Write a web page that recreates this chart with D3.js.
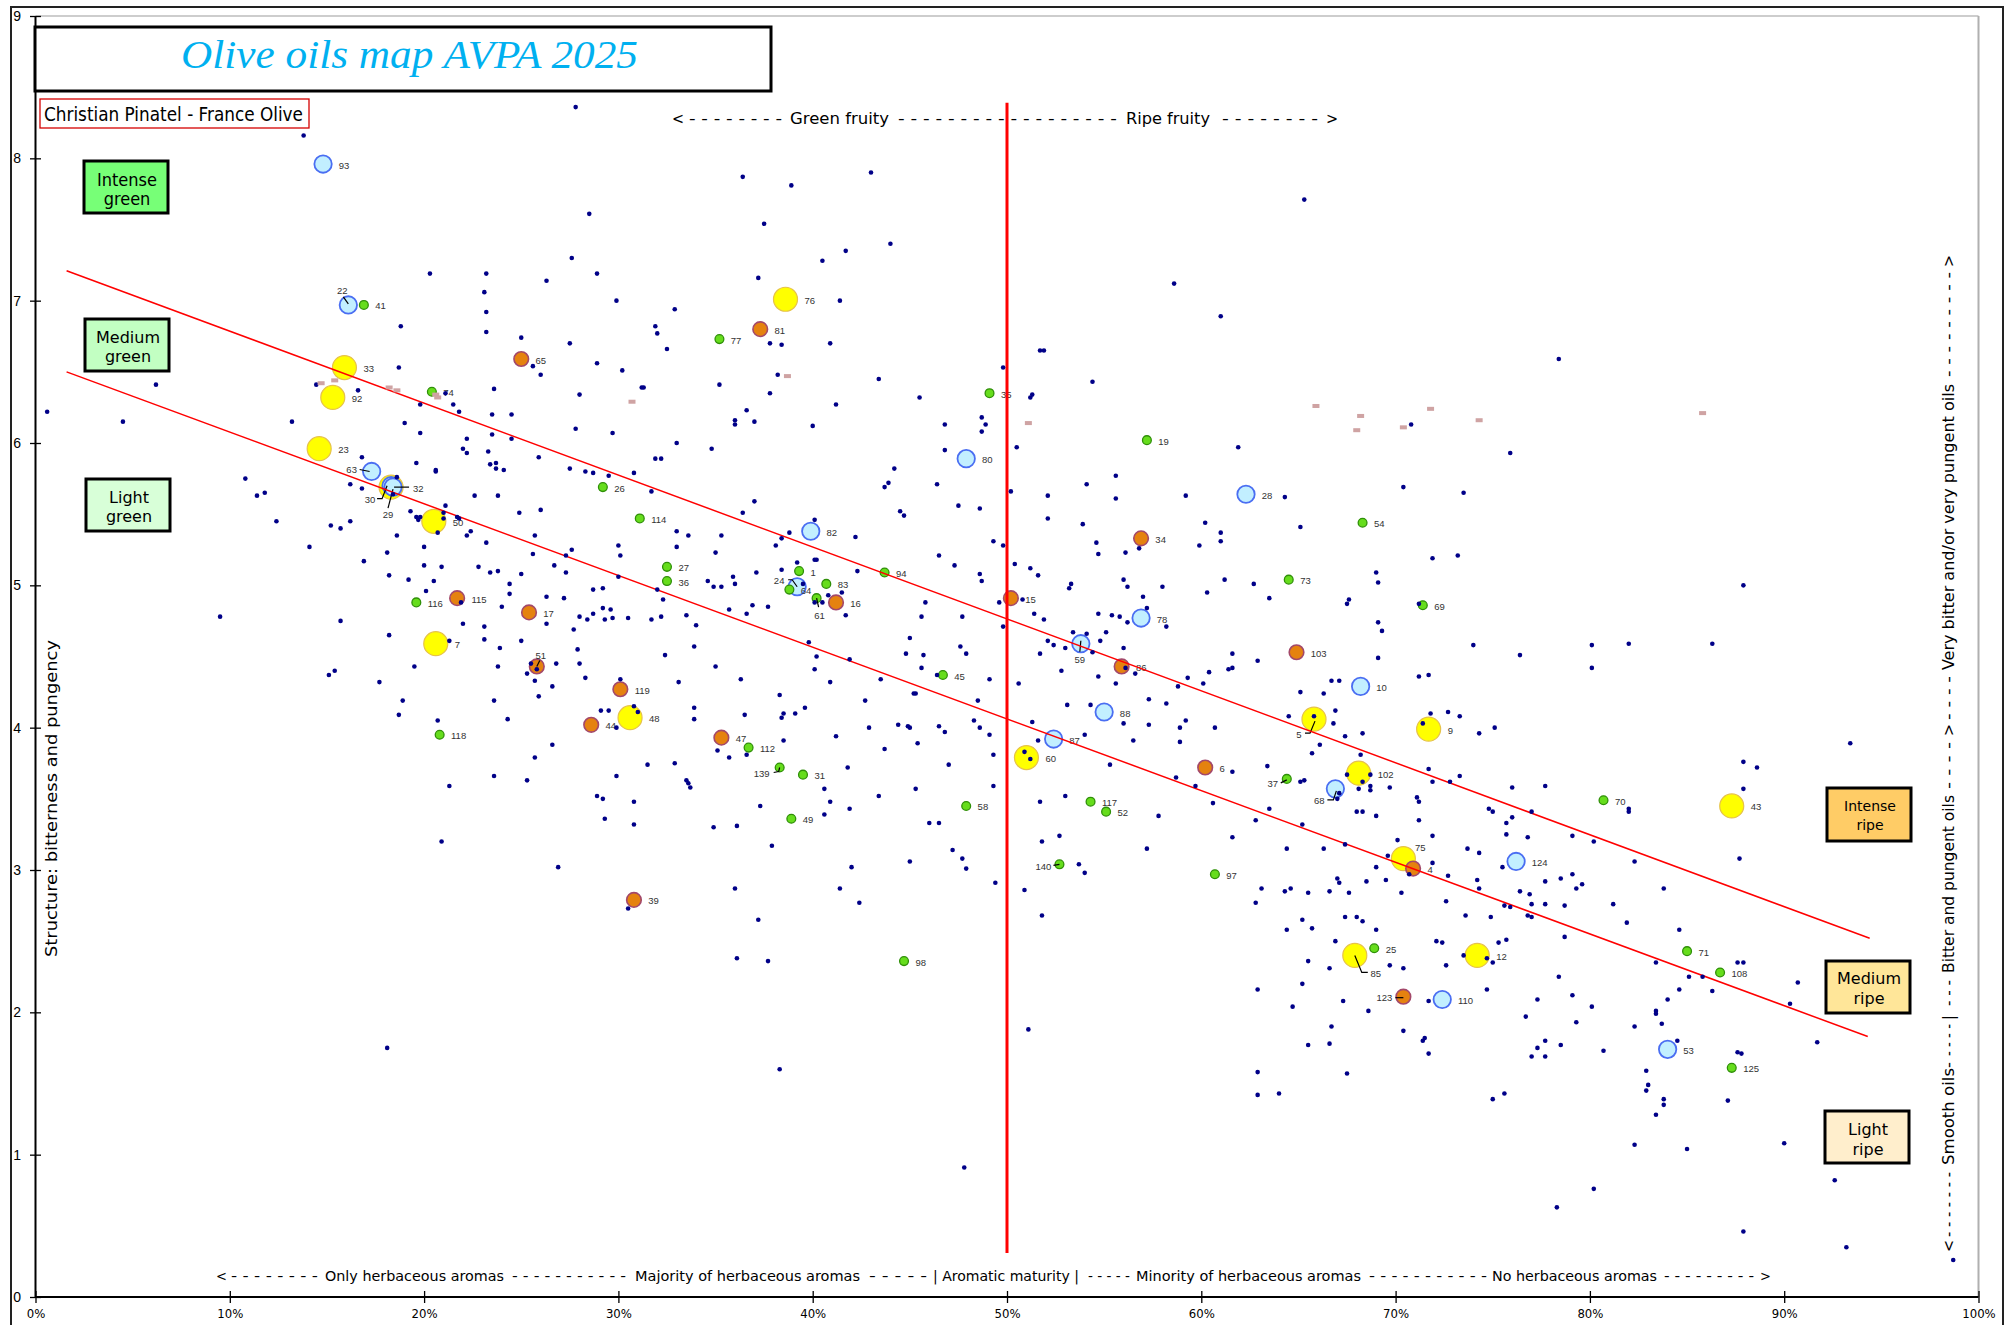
<!DOCTYPE html>
<html><head><meta charset="utf-8">
<script src="https://cdn.jsdelivr.net/npm/d3@7"></script>
<style>html,body{margin:0;padding:0;background:#fff;}svg{display:block;}</style>
</head><body>
<svg id="chart" width="2015" height="1325"></svg>
<script>
// ---------- DATA ----------
const xTicks = [0,10,20,30,40,50,60,70,80,90,100];
const yTicks = [0,1,2,3,4,5,6,7,8,9];
const trendUpper = [[1.6,7.21],[94.4,2.52]];
const trendLower = [[1.6,6.50],[94.3,1.83]];
const maturityLine = [[50,8.39],[50,0.31]];

// [id, aroma maturity %, structure]
const yellowOils = [[76,38.6,7.01],[33,15.9,6.53],[92,15.3,6.32],[23,14.6,5.96],[32,18.3,5.69],[50,20.5,5.45],[7,20.6,4.59],[48,30.6,4.07],[60,51.0,3.79],[5,65.8,4.06],[9,71.7,3.99],[102,68.1,3.68],[75,70.4,3.08],[85,67.9,2.40],[12,74.2,2.40],[43,87.3,3.45]];
const orangeOils = [[81,37.3,6.80],[65,25.0,6.59],[115,21.7,4.91],[17,25.4,4.81],[51,25.8,4.43],[119,30.1,4.27],[44,28.6,4.02],[47,35.3,3.93],[39,30.8,2.79],[16,41.2,4.88],[15,50.2,4.91],[34,56.9,5.33],[86,55.9,4.43],[103,64.9,4.53],[6,60.2,3.72],[4,70.9,3.01],[123,70.4,2.11]];
const blueOils = [[93,14.8,7.96],[22,16.1,6.97],[63,17.3,5.80],[30,18.3,5.70],[29,18.4,5.69],[82,39.9,5.38],[24,39.2,4.99],[80,47.9,5.89],[28,62.3,5.64],[78,56.9,4.77],[59,53.8,4.59],[88,55.0,4.11],[87,52.4,3.92],[10,68.2,4.29],[68,66.9,3.57],[124,76.2,3.06],[110,72.4,2.09],[53,84.0,1.74]];
const greenOils = [[41,16.9,6.97],[77,35.2,6.73],[74,20.4,6.36],[35,49.1,6.35],[19,57.2,6.02],[26,29.2,5.69],[114,31.1,5.47],[27,32.5,5.13],[36,32.5,5.03],[1,39.3,5.10],[83,40.7,5.01],[64,38.8,4.97],[61,40.2,4.91],[94,43.7,5.09],[116,19.6,4.88],[45,46.7,4.37],[118,20.8,3.95],[112,36.7,3.86],[139,38.3,3.72],[31,39.5,3.67],[49,38.9,3.36],[58,47.9,3.45],[117,54.3,3.48],[52,55.1,3.41],[140,52.7,3.04],[97,60.7,2.97],[98,44.7,2.36],[54,68.3,5.44],[73,64.5,5.04],[69,71.4,4.86],[37,64.4,3.64],[70,80.7,3.49],[25,68.9,2.45],[71,85.0,2.43],[108,86.7,2.28],[125,87.3,1.61]];

// other oils of the database [aroma maturity %, structure]
const otherOils = [
[20.3,7.19],[23.2,7.19],[26.3,7.14],[28.9,7.19],[23.1,7.06],[23.2,6.92],[29.9,7.00],[32.9,6.94],[18.8,6.82],[23.2,6.78],
[25.0,6.74],[27.5,6.70],[31.9,6.82],[32.0,6.77],[32.5,6.66],[18.7,6.53],[25.6,6.54],[26.0,6.48],[28.9,6.56],[30.2,6.51],
[14.45,6.41],[16.6,6.37],[21.1,6.35],[23.6,6.38],[28.0,6.34],[31.2,6.39],[31.3,6.39],[35.2,6.41],[19.8,6.27],[21.5,6.27],
[21.8,6.22],[23.5,6.20],[24.5,6.20],[19.0,6.14],[36.0,6.16],[36.0,6.13],[36.6,6.23],[27.8,6.10],[29.7,6.07],[19.8,6.07],
[22.2,6.03],[23.5,6.06],[24.5,6.03],[33.0,6.00],[34.8,5.96],[16.8,5.90],[19.6,5.86],[20.6,5.81],[20.6,5.80],[22.0,5.96],
[22.2,5.93],[23.3,5.94],[23.4,5.85],[23.7,5.86],[23.7,5.82],[24.1,5.81],[25.9,5.90],[27.5,5.82],[28.3,5.80],[28.7,5.79],
[29.5,5.77],[30.8,5.79],[31.9,5.89],[32.2,5.89],[31.7,5.66],[16.2,5.71],[16.8,5.68],[18.6,5.76],[18.4,5.64],[22.6,5.63],
[23.8,5.63],[21.1,5.56],[19.3,5.52],[19.6,5.48],[19.7,5.46],[19.8,5.48],[21.0,5.51],[21.0,5.47],[21.7,5.48],[21.8,5.47],
[24.9,5.51],[26.0,5.53],[15.2,5.42],[15.7,5.40],[16.2,5.45],[18.6,5.35],[20.7,5.37],[22.2,5.35],[22.4,5.38],[25.7,5.35],
[14.1,5.27],[20.0,5.27],[23.2,5.30],[25.6,5.22],[27.6,5.25],[27.3,5.21],[30.0,5.28],[30.1,5.21],[33.0,5.38],[33.6,5.35],
[33.0,5.27],[35.3,5.35],[35.0,5.23],[36.4,5.51],[18.1,5.23],[16.9,5.17],[20.0,5.14],[20.9,5.13],[22.8,5.13],[23.4,5.09],
[23.8,5.10],[25.0,5.08],[26.7,5.14],[27.3,5.09],[30.0,5.06],[18.2,5.07],[19.2,5.04],[20.5,5.03],[20.1,4.96],[24.4,5.01],
[24.4,4.94],[24.0,4.85],[21.9,4.88],[26.3,4.92],[27.2,4.91],[28.7,4.97],[29.2,4.98],[32.0,4.97],[32.3,4.90],[34.6,5.03],
[34.9,4.99],[35.3,4.99],[35.9,5.06],[36.0,5.01],[36.6,4.80],[35.7,4.83],[28.0,4.78],[28.4,4.76],[28.7,4.80],[29.2,4.84],
[29.6,4.83],[29.3,4.76],[29.7,4.77],[30.5,4.77],[31.7,4.76],[32.2,4.78],[33.5,4.79],[34.0,4.72],[26.3,4.73],[27.7,4.69],
[22.0,4.73],[23.1,4.71],[23.1,4.62],[25.0,4.61],[23.9,4.56],[21.3,4.61],[15.7,4.75],[18.2,4.65],[27.9,4.55],[32.4,4.51],
[33.9,4.57],[35.0,4.43],[36.3,4.34],[33.1,4.32],[15.1,4.37],[15.4,4.40],[17.7,4.32],[19.5,4.43],[23.8,4.43],[25.5,4.45],
[25.3,4.38],[25.7,4.33],[25.8,4.41],[26.8,4.45],[26.6,4.29],[25.9,4.22],[28.0,4.45],[28.3,4.35],[30.1,4.34],[23.6,4.19],
[18.9,4.19],[33.9,4.14],[30.8,4.15],
[37.0,5.59],[40.1,5.46],[38.8,5.37],[38.4,5.33],[38.1,5.28],[42.2,5.34],[44.5,5.52],[44.7,5.49],[47.5,5.56],[48.6,5.54],
[52.1,5.47],[53.9,5.43],[49.3,5.31],[49.8,5.28],[54.6,5.30],[54.7,5.22],[46.5,5.21],[47.3,5.14],[48.6,5.08],[48.7,5.03],
[50.4,5.15],[51.2,5.12],[51.6,5.07],[53.3,5.01],[53.2,4.98],[39.2,5.16],[38.4,5.11],[40.1,5.18],[40.2,5.18],[42.3,5.10],
[37.1,5.09],[39.5,5.01],[40.8,4.93],[41.5,4.95],[40.1,4.88],[40.5,4.88],[41.7,4.79],[37.7,4.85],[36.9,4.86],
[49.6,4.88],[47.7,4.78],[45.6,4.78],[45.8,4.88],[49.8,4.71],[51.4,4.80],[51.9,4.76],[53.4,4.67],[54.1,4.66],[52.1,4.61],
[52.4,4.58],[53.0,4.56],[51.7,4.52],[52.8,4.40],[54.4,4.53],[54.7,4.36],[45.0,4.63],[44.8,4.52],[45.7,4.51],[47.6,4.57],
[47.9,4.52],[45.6,4.42],[39.8,4.60],[40.2,4.50],[41.9,4.48],[40.1,4.41],[40.9,4.32],[43.5,4.34],[46.4,4.37],[49.1,4.34],
[50.6,4.31],[38.3,4.23],[39.6,4.14],[38.5,4.10],[39.1,4.10],[38.4,4.07],[42.7,4.19],[45.2,4.24],[45.3,4.24],[48.5,4.19],
[48.3,4.05],[48.6,4.00],[51.3,4.04],[53.1,4.16],[54.3,4.16],[51.6,3.91],[54.0,3.95],[44.4,4.02],[44.9,4.01],[45.0,4.00],
[46.5,4.01],[46.8,3.97],[42.9,4.00],[41.2,3.94],[43.7,3.85],[45.4,3.89],[49.1,3.95],[49.3,3.81],[47.0,3.74],[49.3,3.59],
[53.0,3.52],[51.7,3.48],[43.4,3.52],[45.3,3.57],[41.8,3.72],[40.6,3.57],[40.9,3.48],[41.9,3.43],[40.6,3.39],[37.3,3.45],
[38.5,3.91],[36.6,3.81],[35.1,3.84],[35.7,3.79],[32.9,3.75],[31.5,3.74],[29.9,3.66],[33.5,3.63],[33.6,3.61],[33.7,3.58],
[29.2,3.50],[30.8,3.48],[30.8,3.32],[31.0,4.11],[29.1,4.12],[29.5,4.12],[29.9,4.00],[33.9,4.06],[36.5,4.09],[34.9,3.30],
[36.1,3.31],[37.9,3.17],[46.0,3.33],[46.5,3.33],[51.8,3.20],[52.7,3.24],[47.2,3.14],[47.7,3.08],[47.9,3.01],[45.0,3.06],
[42.0,3.02],[41.4,2.87],[42.4,2.77],[37.2,2.65],[36.0,2.87],[30.5,2.73],[49.4,2.91],[50.9,2.86],[51.8,2.68],[53.7,3.04],
[54.0,2.98],[50.9,3.83],[51.2,3.78],
[50.5,5.97],[61.9,5.97],[50.2,5.66],[52.1,5.63],[54.1,5.71],[55.6,5.77],[55.6,5.61],[59.2,5.63],[64.3,5.62],[70.4,5.69],
[73.5,5.65],[70.8,6.13],[56.1,5.23],[56.8,5.26],[60.2,5.44],[61.0,5.37],[61.0,5.31],[59.9,5.28],[65.1,5.41],[71.9,5.19],
[69.0,5.09],[69.1,5.02],[56.0,5.04],[56.2,4.99],[58.0,4.99],[57.0,4.92],[57.2,4.84],[60.3,4.95],[61.2,5.04],[62.7,5.01],
[63.5,4.91],[67.6,4.90],[67.5,4.87],[71.2,4.87],[69.1,4.74],[69.3,4.68],[74.0,4.58],[69.1,4.49],[71.2,4.36],[71.7,4.37],
[50.8,4.90],[54.7,4.80],[55.4,4.79],[55.8,4.78],[56.2,4.74],[58.2,4.71],[55.1,4.67],[54.8,4.61],[56.0,4.56],
[55.6,4.31],[56.1,4.42],[56.6,4.38],[58.8,4.29],[59.3,4.35],[60.1,4.31],[60.4,4.39],[61.4,4.41],[61.6,4.42],[61.6,4.52],
[62.9,4.47],[65.1,4.25],[66.3,4.24],[66.7,4.33],[67.1,4.33],[64.5,4.08],[65.8,4.08],[66.8,4.03],[66.9,4.12],[67.4,3.94],
[68.3,3.96],[71.4,4.03],[71.8,4.10],[72.7,4.11],[73.3,4.08],[74.3,3.96],[75.1,4.00],[65.7,3.82],[66.1,3.88],[68.2,3.81],
[67.5,3.67],[68.7,3.67],[68.3,3.62],[68.1,3.57],[68.7,3.59],[68.7,3.56],[69.7,3.58],[67.1,3.54],[67.0,3.50],[71.7,3.71],
[71.9,3.62],[72.8,3.62],[73.3,3.66],[71.1,3.51],[71.2,3.48],[74.8,3.43],[75.0,3.41],[68.0,3.41],[68.3,3.41],[69.0,3.38],
[71.2,3.35],[71.9,3.24],[73.7,3.15],[70.1,3.21],[67.4,3.18],[66.3,3.15],[64.4,3.15],[65.2,3.32],[63.5,3.43],[62.8,3.35],
[61.6,3.23],[60.6,3.47],[61.6,3.69],[59.7,3.59],[63.4,3.73],[65.1,3.62],[65.3,3.63],[58.7,3.65],[57.8,3.38],[57.2,3.15],
[55.3,3.74],[56.0,4.03],[56.5,3.91],[57.3,4.20],[58.2,4.17],[57.3,4.02],[59.2,4.05],[58.9,4.00],[58.9,3.90],[60.7,4.00],
[75.7,3.33],[76.0,3.37],[77.0,3.41],[82.0,3.43],[82.0,3.41],[69.6,3.10],[69.0,3.02],[74.3,3.12],[71.9,3.05],[72.7,2.96],
[70.7,2.97],[75.5,3.02],[76.8,3.23],[79.1,3.24],[80.2,3.20],[82.3,3.06],[83.8,2.87],[87.7,3.08],[67.0,2.94],[67.1,2.91],
[68.5,2.92],[69.5,2.93],[63.1,2.87],[64.3,2.85],[64.6,2.87],[65.5,2.84],[66.6,2.85],[67.6,2.84],[70.3,2.84],[62.8,2.77],
[72.6,2.78],[74.2,2.93],[74.3,2.87],[75.6,2.75],[75.9,2.74],[76.4,2.85],[76.9,2.83],[77.7,2.92],[78.5,2.94],[79.1,2.97],
[79.6,2.90],[79.3,2.87],[77.0,2.76],[77.7,2.76],[78.7,2.75],[81.2,2.76],[81.9,2.63],[84.6,2.58],[76.8,2.68],[77.0,2.67],
[73.6,2.68],[74.9,2.67],[65.2,2.65],[65.7,2.59],[67.4,2.67],[68.0,2.67],[68.3,2.64],[69.0,2.58],[64.4,2.58],[66.9,2.50],
[72.1,2.50],[72.4,2.49],[75.3,2.49],[75.7,2.51],[78.7,2.53],[65.5,2.36],[66.6,2.31],[69.7,2.33],[70.4,2.31],[72.6,2.33],
[73.5,2.40],[74.7,2.38],[75.0,2.35],[78.4,2.25],[83.4,2.35],[85.1,2.25],[85.8,2.25],[87.6,2.35],[87.9,2.35],[84.6,2.16],
[86.3,2.15],[84.0,2.09],[83.4,2.01],[83.4,1.99],[83.7,1.92],[82.3,1.90],[84.5,1.80],[65.2,2.20],[62.9,2.16],[64.7,2.04],
[67.3,2.08],[68.6,2.01],[71.7,2.08],[74.7,2.16],[77.3,2.09],[79.1,2.12],[80.1,2.04],[76.7,1.97],[79.3,1.93],[66.7,1.90],
[70.4,1.87],[71.5,1.82],[71.4,1.80],[71.7,1.71],[65.5,1.77],[66.6,1.78],[77.7,1.80],[77.3,1.75],[78.5,1.77],[77.0,1.69],
[77.7,1.69],[80.7,1.73],[87.6,1.72],[87.8,1.71],[62.9,1.58],[67.5,1.57],[82.9,1.59],[83.0,1.49],[82.9,1.45],[83.8,1.39],
[83.8,1.35],[83.4,1.28],[87.1,1.38],[62.9,1.42],[64.0,1.43],[75.0,1.39],[75.6,1.43],[82.3,1.07],[85.0,1.04],
[87.9,3.76],[88.6,3.72],[87.9,3.57],[76.0,3.58],[77.7,3.59],[75.7,3.25],[90.7,2.21],[90.3,2.06],[91.7,1.79],[90.0,1.08],
[13.8,8.16],[6.2,6.41],[0.6,6.22],[4.5,6.15],[13.2,6.15],[10.8,5.75],[11.4,5.63],[11.8,5.65],[12.4,5.45],
[36.4,7.87],[38.9,7.81],[43.0,7.90],[28.5,7.61],[37.5,7.54],[27.6,7.30],[37.2,7.16],[40.5,7.28],[41.7,7.35],[44.0,7.40],
[41.4,7.00],[37.8,6.70],[38.4,6.69],[40.9,6.70],[38.2,6.48],[37.8,6.35],[43.4,6.45],[41.2,6.27],[37.0,6.15],[40.0,6.12],
[44.2,5.82],[43.9,5.72],[43.7,5.69],[46.4,5.71],[45.5,6.32],[46.8,6.13],[48.7,6.18],[48.9,6.13],[48.7,6.08],[49.8,6.53],
[51.7,6.65],[51.9,6.65],[51.2,6.32],[51.3,6.34],[46.8,5.95],[54.4,6.43],[58.6,7.12],[61.0,6.89],[65.3,7.71],
[27.8,8.36],[98.7,0.26],[93.2,0.35],[9.5,4.78],[20.7,4.05],[20.9,3.20],[21.3,3.59],[23.6,3.66],[25.3,3.63],[25.7,3.79],
[26.6,3.88],[26.9,3.02],[28.9,3.52],[29.3,3.36],[18.1,1.75],[24.3,4.06],[18.7,4.09],[38.3,1.60],[47.8,0.91],[51.1,1.88],
[36.1,2.38],[37.7,2.36],[87.9,0.46],[92.6,0.82],[78.3,0.63],[80.2,0.76],
[78.4,6.59],[75.9,5.93],[73.2,5.21],[76.4,4.51],[80.1,4.58],[80.1,4.42],[82.0,4.59],[86.3,4.59],[87.9,5.00],[93.4,3.89]
];

// small marks of earlier campaigns
const minorMarks = [[14.7,6.42],[15.4,6.44],[18.2,6.39],[18.6,6.37],[20.6,6.34],[20.7,6.32],[30.7,6.29],[38.7,6.47],[51.1,6.14],[65.9,6.26],[68.2,6.19],[68.0,6.09],[71.8,6.24],[70.4,6.11],[74.3,6.16],[85.8,6.21]];

const titleText = "Olive oils map AVPA 2025";
const authorText = "Christian Pinatel - France Olive";
const yTitle = "Structure: bitterness and pungency";
const greenClasses = [["Intense","green"],["Medium","green"],["Light","green"]];
const ripeClasses = [["Intense","ripe"],["Medium","ripe"],["Light","ripe"]];

// ---------- LAYOUT ----------
const W = 2015, H = 1325;
const svg = d3.select("#chart");
const x = d3.scaleLinear().domain([0,100]).range([35.5,1978.5]);
const y = d3.scaleLinear().domain([0,9]).range([1297,16]);
const NARROW = "'Liberation Sans Narrow','DejaVu Sans Condensed','Liberation Sans',Arial,sans-serif";
const SANS = "'Liberation Sans',Arial,sans-serif";
const DEJA = "'DejaVu Sans',Verdana,sans-serif";

svg.append("rect").attr("width",W).attr("height",H).attr("fill","#fff");
svg.append("rect").attr("x",11).attr("y",7).attr("width",1992).attr("height",1340)
  .attr("fill","none").attr("stroke","#222").attr("stroke-width",2);
svg.append("line").attr("x1",x(0)).attr("x2",x(100)).attr("y1",y(9)).attr("y2",y(9)).attr("stroke","#bdbdbd").attr("stroke-width",1.5);
svg.append("line").attr("x1",x(100)).attr("x2",x(100)).attr("y1",y(9)).attr("y2",y(0)).attr("stroke","#b0b0b0").attr("stroke-width",2);

// axes
const gy = svg.append("g").attr("transform",`translate(${x(0)+5.5},0)`)
  .call(d3.axisLeft(y).tickValues(yTicks).tickSize(11).tickPadding(9).tickFormat(d3.format("d")));
gy.select(".domain").remove();
gy.selectAll("line").attr("stroke","#000").attr("stroke-width",1.3);
gy.selectAll("text").attr("font-family",SANS).attr("font-size",14).attr("fill","#000");

const gx = svg.append("g").attr("transform",`translate(0,${y(0)-6})`)
  .call(d3.axisBottom(x).tickValues(xTicks).tickSize(12).tickPadding(6).tickFormat(d=>d+"%"));
gx.select(".domain").remove();
gx.selectAll("line").attr("stroke","#000").attr("stroke-width",1.3);
gx.selectAll("text").attr("font-family",NARROW).attr("font-size",13).attr("fill","#000");

svg.append("line").attr("x1",x(0)).attr("x2",x(0)).attr("y1",y(9)).attr("y2",y(0)).attr("stroke","#000").attr("stroke-width",2);
svg.append("line").attr("x1",x(0)).attr("x2",x(100)).attr("y1",y(0)).attr("y2",y(0)).attr("stroke","#000").attr("stroke-width",2);

// title boxes
svg.append("rect").attr("x",35).attr("y",27).attr("width",736).attr("height",64).attr("fill","#fff").attr("stroke","#000").attr("stroke-width",3);
svg.append("text").attr("x",181).attr("y",68).attr("textLength",457).attr("lengthAdjust","spacingAndGlyphs")
  .attr("font-family","'Liberation Serif','DejaVu Serif',serif").attr("font-style","italic").attr("font-size",41)
  .attr("fill","#00b0f0").text(titleText);
svg.append("rect").attr("x",40).attr("y",99).attr("width",269).attr("height",29).attr("fill","#fff").attr("stroke","#d40000").attr("stroke-width",1.3);
svg.append("text").attr("x",44).attr("y",114).attr("dominant-baseline","central").attr("textLength",259).attr("lengthAdjust","spacingAndGlyphs")
  .attr("font-family",NARROW).attr("font-size",19).attr("fill","#000").text(authorText);

// category boxes
const greenBoxLayout = [
  {x:84,y:161,w:84,h:52,fill:"#77ff77",ly:[179,198],font:NARROW,size:18},
  {x:85,y:319,w:84,h:52,fill:"#c2ffc2",ly:[337,356],font:DEJA,size:16},
  {x:86,y:479,w:84,h:52,fill:"#d8ffd8",ly:[497,516],font:DEJA,size:16}];
const ripeBoxLayout = [
  {x:1827,y:788,w:84,h:53,fill:"#ffcc66",ly:[806,825],font:DEJA,size:14},
  {x:1826,y:961,w:84,h:52,fill:"#ffe699",ly:[978,998],font:DEJA,size:16},
  {x:1825,y:1111,w:84,h:52,fill:"#ffeecc",ly:[1129,1149],font:DEJA,size:16}];
function drawBoxes(labels, layout){
  labels.forEach((lines,i)=>{
    const L = layout[i];
    svg.append("rect").attr("x",L.x).attr("y",L.y).attr("width",L.w).attr("height",L.h)
      .attr("fill",L.fill).attr("stroke","#000").attr("stroke-width",3);
    lines.forEach((t,j)=>{
      svg.append("text").attr("x",L.x+L.w/2+1).attr("y",L.ly[j]).attr("text-anchor","middle").attr("dominant-baseline","central")
        .attr("font-family",L.font).attr("font-size",L.size).attr("fill","#000").text(t);
    });
  });
}
drawBoxes(greenClasses, greenBoxLayout);
drawBoxes(ripeClasses, ripeBoxLayout);

// dashed annotation texts
const dash = n => Array(n).fill("-").join(" ");
function hSegs(segs, yy, size){
  segs.forEach(([t,a,b])=>{
    const el = svg.append("text").attr("x",a).attr("y",yy).attr("dominant-baseline","central")
      .attr("font-family",NARROW).attr("font-size",size).attr("fill","#000").text(t);
    if(t.length>1) el.attr("textLength",b-a).attr("lengthAdjust","spacingAndGlyphs");
  });
}
function vSegs(segs, xx, size){
  segs.forEach(([t,a,b])=>{
    const el = svg.append("text").attr("transform",`translate(${xx},${a}) rotate(-90)`).attr("dominant-baseline","central")
      .attr("font-family",NARROW).attr("font-size",size).attr("fill","#000").text(t);
    if(t.length>1) el.attr("textLength",a-b).attr("lengthAdjust","spacingAndGlyphs");
  });
}
hSegs([["<",672,681],[dash(8),689,782],["Green fruity",790,889],[dash(18),898,1117],["Ripe fruity",1126,1210],[dash(8),1222,1318],[">",1326,1335]],118,16);
hSegs([["<",216,225],[dash(8),231,318],["Only herbaceous  aromas",325,504],[dash(11),512,626],["Majority of  herbaceous  aromas",635,860],[dash(5),869,927],["| Aromatic maturity |",933,1079],[dash(5),1088,1130],["Minority of  herbaceous  aromas",1136,1361],[dash(11),1369,1487],["No herbaceous  aromas",1492,1657],[dash(9),1664,1754],[">",1760,1769]],1276,14.5);
vSegs([["<",1252,1243],[dash(7),1237,1172],["Smooth oils-",1165,1062],[dash(4),1056,1024],["|",1020,1012],[dash(3),1006,980],["Bitter and pungent oils",973,795],[dash(4),789,742],[">",736,727],[dash(4),720,676],["Very bitter and/or very pungent oils",670,384],[dash(9),377,272],[">",267,258]],1948,16);
svg.append("text").attr("transform",`translate(51,957) rotate(-90)`).attr("dominant-baseline","central")
  .attr("textLength",317).attr("lengthAdjust","spacingAndGlyphs")
  .attr("font-family",NARROW).attr("font-size",16).attr("fill","#000").text(yTitle);

// ---------- MARKS ----------
const series = [
  {data:yellowOils, r:12, fill:"#ffff00", stroke:"#e6c24a", sw:1.2},
  {data:orangeOils, r:7.3, fill:"#e5820f", stroke:"#a3486a", sw:1.6},
  {data:blueOils, r:8.7, fill:"#c2efff", stroke:"#4a6ef2", sw:1.8},
  {data:greenOils, r:4.4, fill:"#66dd1c", stroke:"#2f8f08", sw:1.3}];
series.forEach(s=>{
  svg.append("g").selectAll("circle").data(s.data).join("circle")
    .attr("cx",d=>x(d[1])).attr("cy",d=>y(d[2])).attr("r",s.r)
    .attr("fill",s.fill).attr("stroke",s.stroke).attr("stroke-width",s.sw);
});

// label placement (pixel offsets from the mark centre)
const labelLayout = {
  22:{dx:-6,dy:-14,a:"middle",leader:[[-5,-8],[0,-1]]},
  63:{dx:-20,dy:-2,a:"middle",leader:[[-12,-2],[-2,0]]},
  30:{dx:-21,dy:14,a:"middle",leader:[[-14,13],[-9,13],[-4,0]]},
  29:{dx:-5,dy:27,a:"middle",leader:[[-5,21],[0,2]]},
  32:{dx:22,dy:1,a:"start",leader:[[3,0],[18,0]]},
  51:{dx:4,dy:-11,a:"middle",leader:[[3,-6],[0,0]]},
  24:{dx:-18,dy:-6,a:"middle",leader:[[-9,-7],[-5,-7],[0,0]]},
  61:{dx:3,dy:17,a:"middle",leader:[[2,9],[0,0]]},
  139:{dx:-18,dy:6,a:"middle",leader:[[-6,5],[-1,4],[0,0]]},
  140:{dx:-16,dy:2,a:"middle",leader:[[-6,1],[0,0]]},
  59:{dx:-1,dy:16,a:"middle",leader:[[-1,8],[0,-3]]},
  5:{dx:-15,dy:15,a:"middle",leader:[[-9,14],[-4,14],[1,2]]},
  37:{dx:-14,dy:5,a:"middle",leader:[[-6,4],[0,1]]},
  68:{dx:-16,dy:12,a:"middle",leader:[[-8,11],[-2,11],[1,2]]},
  85:{dx:21,dy:18,a:"middle",leader:[[0,0],[7,17],[13,17]]},
  123:{dx:-19,dy:1,a:"middle",leader:[[-8,1],[0,1]]},
  75:{dx:17,dy:-11,a:"middle"}
};
const gLab = svg.append("g");
series.forEach(s=>{
  s.data.forEach(d=>{
    const cx = x(d[1]), cy = y(d[2]);
    const L = labelLayout[d[0]];
    if(L && L.leader){
      gLab.append("polyline").attr("points",L.leader.map(p=>[cx+p[0],cy+p[1]].join(",")).join(" "))
        .attr("fill","none").attr("stroke","#000").attr("stroke-width",1.2);
    }
    gLab.append("text")
      .attr("x", L ? cx+L.dx : cx+s.r+7).attr("y", L ? cy+L.dy : cy+1)
      .attr("text-anchor", L ? L.a : "start").attr("dominant-baseline","central")
      .attr("font-family",SANS).attr("font-size",9.5).attr("fill","#333").text(d[0]);
  });
});

// red guide lines
const line = d3.line().x(d=>x(d[0])).y(d=>y(d[1]));
svg.append("path").attr("d",line(trendUpper)).attr("stroke","#ff0000").attr("stroke-width",1.5).attr("fill","none");
svg.append("path").attr("d",line(trendLower)).attr("stroke","#ff0000").attr("stroke-width",1.5).attr("fill","none");
svg.append("path").attr("d",line(maturityLine)).attr("stroke","#ff0000").attr("stroke-width",3).attr("fill","none");

// other oils
svg.append("g").selectAll("circle").data(otherOils).join("circle")
  .attr("cx",d=>x(d[0])).attr("cy",d=>y(d[1])).attr("r",2.3).attr("fill","#000088");
svg.append("g").selectAll("rect").data(minorMarks).join("rect")
  .attr("x",d=>x(d[0])-3.5).attr("y",d=>y(d[1])-2).attr("width",7).attr("height",4).attr("fill","#cfa3a3");
</script>
</body></html>
